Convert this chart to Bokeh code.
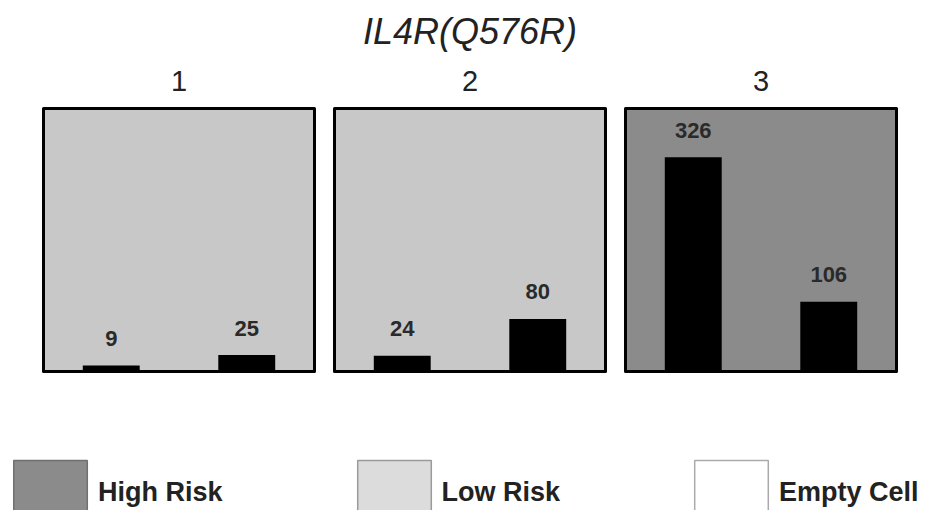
from bokeh.plotting import figure
from bokeh.models import FactorRange, Range1d, ColumnDataSource, Legend, LegendItem
from bokeh.core.properties import value
from bokeh.embed import file_html
from bokeh.resources import INLINE

# ---------------- data ----------------
TITLE = "IL4R(Q576R)"
PANELS = ["1", "2", "3"]
GROUPS = ["Cases", "Controls"]
CASES = [9, 24, 326]
CONTROLS = [25, 80, 106]
PANEL_RISK = ["Low Risk", "Low Risk", "High Risk"]
LEGEND_LABELS = ["High Risk", "Low Risk", "Empty Cell"]
PANEL_MAX = 400

# ---------------- styles / layout ----------------
W, H = 926, 510
LEFT_BORDER = 13
PANEL_TOP_PX = 108      # from canvas top
PANEL_H_PX = 263
BASE_PX = PANEL_TOP_PX + PANEL_H_PX
UNIT_PX = 135.5         # pixels per factor
GAP_PX = 20
SIDE_PAD_PX = 30
FONT = "Liberation Sans"
PANEL_FILL = {"Low Risk": "#c8c8c8", "High Risk": "#8b8b8b"}
LEG_FILL = {"High Risk": "#8b8b8b", "Low Risk": "#dcdcdc", "Empty Cell": "#ffffff"}
LEG_LINE = {"High Risk": "#707070", "Low Risk": "#9a9a9a", "Empty Cell": "#aaaaaa"}

upp = PANEL_MAX / PANEL_H_PX
factors = [(p, g) for p in PANELS for g in GROUPS]
x_range = FactorRange(*factors, group_padding=GAP_PX / UNIT_PX, factor_padding=0,
                      range_padding=SIDE_PAD_PX / UNIT_PX,
                      range_padding_units="absolute")
y_range = Range1d(-(H - BASE_PX) * upp, PANEL_MAX + PANEL_TOP_PX * upp)

p = figure(width=W, height=H, x_range=x_range, y_range=y_range,
           output_backend="svg", toolbar_location=None,
           x_axis_location=None, y_axis_location=None,
           min_border=0, min_border_left=LEFT_BORDER)
p.grid.visible = False
p.outline_line_color = None
p.background_fill_color = "white"
p.border_fill_color = "white"

# legend proxy renderers: drawn underneath the (opaque) first panel
items = []
for lab in LEGEND_LABELS:
    r = p.vbar(x=[PANELS[0]], top=[PANEL_MAX / 2], bottom=PANEL_MAX / 4, width=0.5,
               fill_color=LEG_FILL[lab], line_color=LEG_LINE[lab], line_width=1.5,
               level="underlay")
    items.append(LegendItem(label=lab, renderers=[r]))

# panel backgrounds
panel_src = ColumnDataSource(dict(x=PANELS, fill=[PANEL_FILL[r] for r in PANEL_RISK]))
p.vbar(x="x", top=PANEL_MAX, bottom=0, width=2, source=panel_src,
       fill_color="fill", line_color="black", line_width=3, line_join="round")

# bars
vals = []
for c, k in zip(CASES, CONTROLS):
    vals += [c, k]
bar_src = ColumnDataSource(dict(x=factors, top=vals, label=[str(v) for v in vals]))
p.vbar(x="x", top="top", bottom=0, width=0.42, source=bar_src,
       fill_color="black", line_color=None)
p.text(x="x", y="top", text="label", source=bar_src, y_offset=-27,
       text_align="center", text_baseline="middle",
       text_font=value(FONT), text_font_size="22px", text_font_style="bold",
       text_color="#2a2a2a")

# panel numbers
p.text(x=PANELS, y=[PANEL_MAX] * len(PANELS), text=PANELS, y_offset=-28,
       text_align="center", text_baseline="middle",
       text_font=value(FONT), text_font_size="29px", text_color="#222222")

# main title
p.text(x=[PANELS[1]], y=[PANEL_MAX], text=[TITLE], y_offset=-77,
       text_align="center", text_baseline="middle",
       text_font=value(FONT), text_font_size="36px", text_font_style="italic",
       text_color="#222222")

legend = Legend(items=items, orientation="horizontal", location=(-9, -23),
                glyph_width=92, glyph_height=81, label_standoff=2, spacing=125,
                padding=0, margin=0, border_line_color=None,
                background_fill_alpha=0,
                label_text_font=FONT, label_text_font_size="27px",
                label_text_font_style="bold", label_text_color="#222222")
p.add_layout(legend)

open("out.html", "w").write(file_html(p, INLINE))
